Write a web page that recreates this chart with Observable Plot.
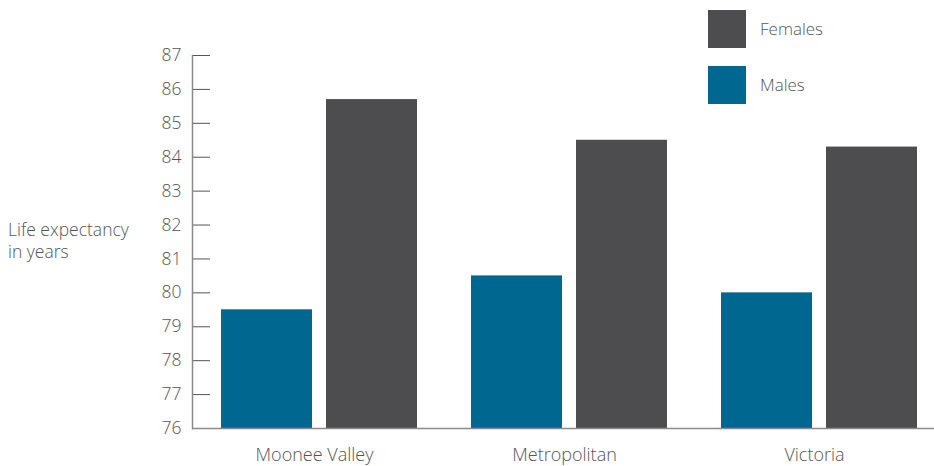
<!DOCTYPE html>
<html>
<head>
<meta charset="utf-8">
<script src="https://cdn.jsdelivr.net/npm/d3@7"></script>
<script src="https://cdn.jsdelivr.net/npm/@observablehq/plot@0.6"></script>
<style>
  body { margin: 0; background: #fff; font-family: "Open Sans", sans-serif; font-weight: 300; color: #555; }
  #wrap { position: relative; width: 934px; height: 466px; }
  #legend { position: absolute; left: 708px; top: 10px; font-size: 17px; }
  .item { position: absolute; left: 0; width: 200px; height: 38px; }
  .sw { position: absolute; left: 0; top: 0; width: 38px; height: 38px; }
  .lab { position: absolute; left: 52px; top: 7px; white-space: nowrap; }
  #ylabel { position: absolute; left: 8px; top: 218px; font-size: 17.5px; line-height: 22px; }
</style>
</head>
<body>
<div id="wrap">
  <div id="chart"></div>
  <div id="ylabel">Life expectancy<br>in years</div>
  <div id="legend"></div>
</div>
<script>
const categories = ["Moonee Valley", "Metropolitan", "Victoria"];
const males = [79.5, 80.5, 80.0];
const females = [85.7, 84.5, 84.3];
const yTicks = [76, 77, 78, 79, 80, 81, 82, 83, 84, 85, 86, 87];
const seriesNames = ["Females", "Males"];
const colors = { Females: "#4d4d4f", Males: "#006791" };

const maleData = categories.map((c, i) => ({ category: c, value: males[i] }));
const femaleData = categories.map((c, i) => ({ category: c, value: females[i] }));

const axisColor = "#8a8a8a";

const plot = Plot.plot({
  width: 934,
  height: 466,
  marginLeft: 192,
  marginRight: 0,
  marginTop: 55,
  marginBottom: 38,
  style: { fontFamily: "'Open Sans', sans-serif", fontWeight: 300, fontSize: "16px", color: "#555", background: "transparent" },
  x: { type: "band", domain: categories, range: [194, 944], padding: 0, label: null },
  y: { domain: [76, 87], label: null },
  marks: [
    Plot.barY(maleData, { x: "category", y1: 76, y2: "value", fill: colors.Males, insetLeft: 27, insetRight: 132 }),
    Plot.barY(femaleData, { x: "category", y1: 76, y2: "value", fill: colors.Females, insetLeft: 132, insetRight: 27 }),
    Plot.ruleY(yTicks, { y: d => d, stroke: "#555", strokeWidth: 1, insetRight: 934 - 192 - 18 }),
    Plot.frame({ anchor: "left", stroke: axisColor, strokeWidth: 1.5 }),
    Plot.ruleY([76], { stroke: axisColor, strokeWidth: 1.5 }),
    Plot.axisY({ ticks: yTicks, tickSize: 0, tickPadding: 11, tickFormat: d => String(d), fontSize: 17.5, fill: "#555", label: null }),
    Plot.axisX({ tickSize: 0, tickPadding: 20, fontSize: 18, fill: "#555", dx: -5, label: null })
  ]
});
document.getElementById("chart").appendChild(plot);

const legend = document.getElementById("legend");
seriesNames.forEach((name, i) => {
  const item = document.createElement("div");
  item.className = "item";
  item.style.top = (i * 56) + "px";
  item.innerHTML = `<div class="sw" style="background:${colors[name]}"></div><div class="lab">${name}</div>`;
  legend.appendChild(item);
});
</script>
</body>
</html>
